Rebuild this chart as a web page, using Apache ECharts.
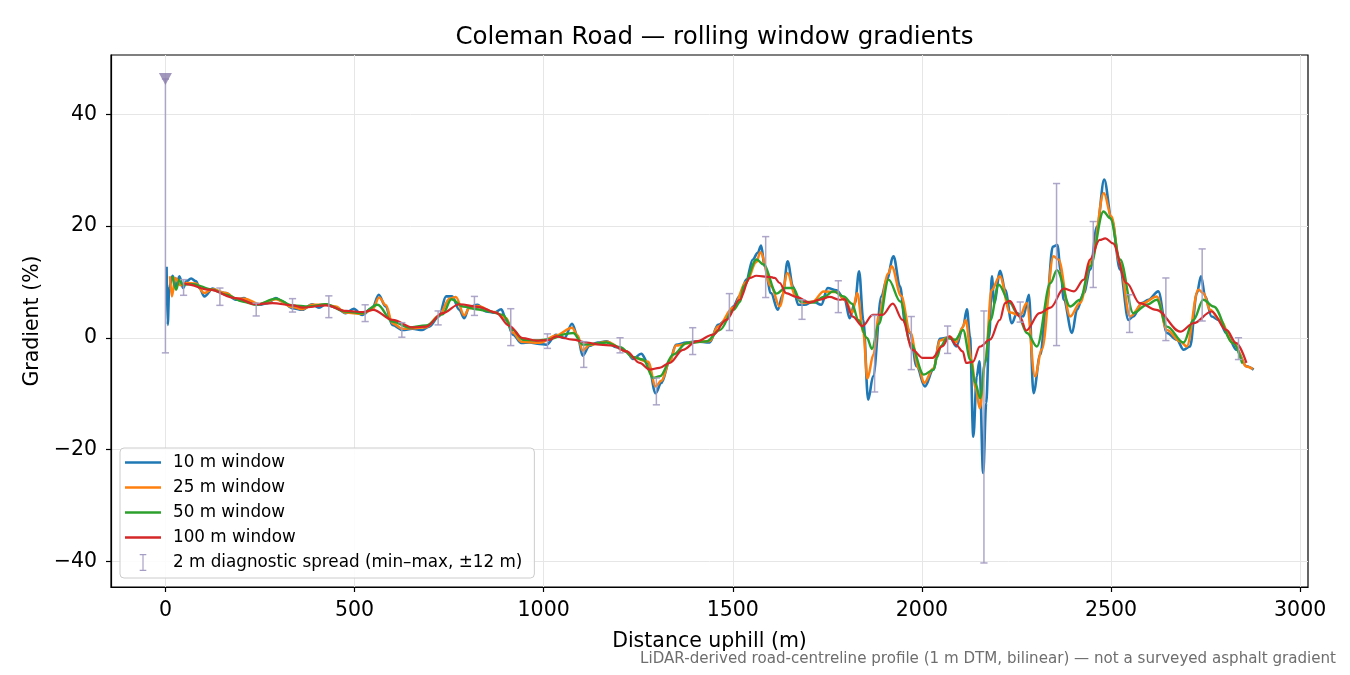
<!DOCTYPE html>
<html>
<head>
<meta charset="utf-8">
<script src="https://cdn.jsdelivr.net/npm/echarts@6/dist/echarts.min.js"></script>
<style>
html,body{margin:0;padding:0;background:#fff;}
#chart{width:1350px;height:675px;}
</style>
</head>
<body>
<div id="chart"></div>
<script>
// ---- data (distance m, gradient %) ----
const win10 = [[3,12.7],[6,2.3],[10,9.0],[19,11.1],[28,9.2],[37,11.0],[47,8.9],[55,10.1],[68,10.6],[81,10.1],[90,8.9],[103,7.4],[125,8.8],[142,8.2],[160,8.0],[186,6.8],[208,7.1],[221,6.4],[248,5.9],[270,6.2],[292,7.1],[309,6.5],[336,5.3],[362,5.0],[388,6.0],[406,5.4],[424,6.0],[450,5.4],[476,4.4],[498,5.2],[520,4.1],[547,5.3],[564,7.7],[582,5.6],[600,2.3],[627,1.4],[653,1.6],[679,1.4],[697,2.0],[723,3.8],[742,7.4],[758,7.4],[777,5.0],[790,3.5],[803,5.5],[825,5.9],[848,4.7],[869,4.5],[888,5.1],[901,3.2],[919,0.55],[941,-0.95],[963,-0.85],[989,-1.1],[1007,-1.25],[1033,0.55],[1055,-0.05],[1075,2.5],[1090,0.25],[1103,-3.2],[1121,-1.45],[1143,-0.85],[1166,-0.65],[1192,-1.7],[1219,-2.45],[1236,-3.8],[1258,-2.85],[1276,-4.5],[1296,-9.9],[1311,-8.1],[1333,-4.2],[1350,-1.25],[1377,-0.85],[1404,-0.65],[1439,-0.85],[1461,2.3],[1483,3.2],[1501,5.6],[1518,7.4],[1536,10.4],[1553,14.0],[1566,15.2],[1575,16.5],[1584,12.8],[1601,8.0],[1619,5.0],[1632,7.7],[1645,13.7],[1659,9.2],[1673,5.9],[1690,5.9],[1712,6.5],[1734,5.9],[1751,8.9],[1774,8.5],[1796,6.8],[1809,3.5],[1823,6.2],[1834,11.9],[1845,3.2],[1858,-11.1],[1871,-6.9],[1893,7.4],[1907,10.4],[1925,14.6],[1942,9.2],[1956,2.6],[1969,0.85],[1986,-5.1],[2008,-8.7],[2030,-5.7],[2048,-0.2],[2074,0.1],[2091,-1.55],[2109,2.0],[2119,5.1],[2127,0.25],[2136,-17.7],[2145,-6.9],[2152,-4.2],[2162,-24.2],[2170,-11.7],[2178,0.25],[2185,11.0],[2191,6.2],[2207,12.0],[2220,8.6],[2238,2.6],[2251,4.4],[2268,3.8],[2283,7.7],[2295,-9.9],[2313,-3.0],[2330,6.2],[2346,16.3],[2358,16.6],[2367,12.0],[2375,6.8],[2397,0.85],[2410,5.0],[2428,8.0],[2445,12.2],[2463,19.9],[2482,28.3],[2502,21.1],[2524,12.2],[2546,3.2],[2559,3.8],[2581,6.2],[2599,6.8],[2625,8.3],[2648,0.85],[2674,-0.35],[2692,-2.15],[2709,-1.55],[2727,8.0],[2738,11.0],[2749,7.4],[2766,3.8],[2785,3.2],[2805,0.85],[2832,-2.15],[2858,-5.1],[2877,-5.7]];

const win25 = [[12,11.0],[17,7.4],[26,10.7],[40,9.4],[55,9.8],[80,9.7],[103,8.0],[125,8.7],[160,8.0],[186,7.0],[210,7.0],[248,6.0],[292,6.9],[336,5.5],[362,5.1],[388,5.9],[424,5.9],[450,5.6],[476,4.5],[520,4.3],[547,5.0],[565,7.2],[583,5.8],[600,2.6],[627,1.6],[653,1.7],[689,1.9],[724,4.0],[751,7.0],[768,7.3],[790,4.0],[803,5.3],[825,5.7],[869,4.6],[901,3.5],[919,0.9],[941,-0.7],[989,-0.9],[1033,0.4],[1075,1.8],[1090,0.4],[1103,-2.3],[1121,-1.3],[1166,-0.7],[1219,-2.4],[1236,-3.5],[1276,-4.3],[1296,-8.7],[1311,-7.7],[1333,-4.3],[1350,-1.4],[1404,-0.7],[1439,-0.6],[1461,2.0],[1501,5.4],[1536,10.0],[1562,13.5],[1573,15.3],[1601,9.2],[1624,5.6],[1645,11.6],[1665,7.5],[1685,6.2],[1712,6.5],[1740,8.3],[1773,8.2],[1796,6.8],[1816,4.5],[1829,8.0],[1845,1.0],[1856,-7.3],[1872,-3.0],[1886,4.0],[1911,11.5],[1920,12.8],[1945,7.5],[1969,1.0],[1992,-5.5],[2006,-8.1],[2030,-5.5],[2048,-0.5],[2074,0.2],[2091,-0.8],[2107,1.8],[2116,3.2],[2131,-4.0],[2142,-9.0],[2153,-12.6],[2168,-4.0],[2184,8.5],[2206,11.0],[2233,4.5],[2260,4.0],[2277,6.2],[2299,-6.9],[2317,-2.1],[2348,14.6],[2361,14.0],[2392,3.8],[2418,6.2],[2449,14.0],[2481,25.9],[2501,21.7],[2523,13.4],[2550,3.8],[2585,6.2],[2621,7.4],[2648,1.4],[2683,-0.65],[2700,-1.55],[2731,8.6],[2744,8.0],[2762,5.0],[2788,3.2],[2823,-0.95],[2860,-5.2],[2875,-5.6]];

const win50 = [[19,11.0],[28,8.6],[37,10.4],[45,9.5],[72,9.6],[125,8.6],[160,7.7],[204,6.5],[239,5.9],[292,7.0],[336,5.8],[380,5.6],[424,6.0],[476,4.7],[520,4.4],[561,5.9],[600,2.9],[644,1.85],[689,2.2],[733,4.2],[756,6.9],[787,5.6],[822,5.1],[857,4.7],[892,4.1],[919,1.4],[945,-0.35],[980,-0.5],[1016,-0.25],[1060,0.7],[1078,0.85],[1104,-1.25],[1131,-1.1],[1166,-0.85],[1202,-1.7],[1237,-3.5],[1263,-3.9],[1290,-7.2],[1307,-6.9],[1343,-3.0],[1378,-0.95],[1430,-0.65],[1466,1.4],[1502,5.0],[1520,6.5],[1528,9.2],[1563,14.0],[1581,13.1],[1616,7.9],[1638,8.9],[1660,8.9],[1679,6.5],[1714,6.3],[1740,7.3],[1766,8.3],[1793,7.4],[1815,6.1],[1832,3.2],[1855,-0.05],[1868,-2.0],[1886,2.5],[1912,10.4],[1943,6.5],[1970,-1.0],[2005,-6.6],[2031,-5.7],[2040,-3.5],[2050,-1.5],[2066,-0.05],[2088,-0.35],[2109,1.4],[2128,-3.9],[2141,-8.1],[2154,-10.8],[2167,-4.5],[2181,3.2],[2203,9.5],[2233,6.2],[2252,4.4],[2278,0.85],[2304,-1.55],[2340,9.8],[2357,12.1],[2392,5.6],[2418,6.8],[2445,12.8],[2480,22.6],[2498,21.4],[2524,14.0],[2559,4.4],[2595,5.9],[2621,6.8],[2648,2.0],[2692,-0.85],[2718,3.2],[2744,6.8],[2771,5.6],[2823,-0.95],[2847,-4.6]];

const win100 = [[50,9.8],[55,9.6],[116,8.6],[186,7.1],[239,6.0],[283,6.2],[337,5.8],[363,5.4],[425,5.8],[478,4.8],[522,4.6],[549,5.0],[601,3.2],[654,1.85],[689,2.0],[733,4.4],[777,6.0],[830,5.5],[874,4.5],[909,2.15],[944,-0.05],[980,-0.5],[1015,-0.4],[1033,0.25],[1077,-0.35],[1113,-0.85],[1148,-1.25],[1183,-1.4],[1219,-2.45],[1254,-4.5],[1280,-5.7],[1306,-5.4],[1333,-4.5],[1368,-2.15],[1404,-0.65],[1448,0.55],[1483,3.2],[1518,6.8],[1545,10.7],[1562,11.1],[1597,10.9],[1611,10.7],[1624,9.8],[1641,8.0],[1668,7.3],[1703,6.3],[1729,6.8],[1756,7.3],[1782,6.8],[1795,6.9],[1817,3.8],[1843,2.1],[1870,4.1],[1896,4.1],[1923,6.1],[1949,3.2],[1975,-2.15],[2002,-3.6],[2028,-3.6],[2054,-1.55],[2073,0.25],[2090,-1.25],[2108,-2.45],[2117,-4.5],[2135,-4.3],[2153,-1.6],[2180,-0.35],[2206,3.2],[2220,6.2],[2232,6.6],[2259,3.8],[2276,1.3],[2311,4.4],[2340,5.4],[2375,8.8],[2402,8.3],[2428,10.4],[2444,14.0],[2470,17.5],[2485,17.8],[2505,16.9],[2541,9.8],[2576,6.2],[2620,5.0],[2683,1.1],[2718,2.6],[2766,4.7],[2805,1.4],[2831,-0.95],[2858,-4.5]];

// 2 m diagnostic spread: position, min, max
const spreadX   = [0,48,144,240,336,432,528,625,721,817,913,1010,1106,1202,1298,1394,1491,1587,1683,1779,1875,1972,2068,2164,2260,2356,2453,2549,2645,2741,2837];
const spreadMin = [-2.7,7.6,5.8,3.9,4.6,3.6,2.9,0.1,2.3,4.0,-1.4,-1.9,-5.3,-2.7,-12.0,-3.0,1.3,7.2,3.3,4.5,-9.7,-5.7,-2.8,-40.3,2.8,-1.4,9.0,0.95,-0.5,3.0,-3.9];
const spreadMax = [46.3,10.4,8.9,6.2,7.0,7.5,5.9,2.7,4.8,7.4,5.2,0.7,-0.7,0.0,-7.2,1.8,7.9,18.1,6.8,10.2,4.0,3.8,2.1,4.8,6.4,27.6,20.8,7.7,10.7,15.9,0.0];
const clippedMarker = [[0,46.3]];

const xTicks = [0,500,1000,1500,2000,2500,3000];
const yTicks = [-40,-20,0,20,40];

const seriesNames = ['10 m window','25 m window','50 m window','100 m window'];
const spreadName = '2 m diagnostic spread (min\u2013max, \u00b112 m)';
const titleText = 'Coleman Road \u2014 rolling window gradients';
const footText = 'LiDAR-derived road-centreline profile (1 m DTM, bilinear) \u2014 not a surveyed asphalt gradient';

// ---- chart ----
const FONT = '"DejaVu Sans", "Liberation Sans", sans-serif';
const colors = ['#1f77b4','#ff7f0e','#2ca02c','#d62728'];
const widths = [2.6,2.5,2.4,2.2];
const spreadColor = '#a59dc3';
const minusFmt = v => (v < 0 ? '\u2212' + Math.abs(v) : String(v));

const spreadData = spreadX.map((x,i) => [x, spreadMin[i], spreadMax[i]]);

const lineSeries = [win10, win25, win50, win100].map((d,i) => ({
  name: seriesNames[i],
  type: 'line',
  data: d,
  symbol: 'none',
  smooth: 0.35,
  smoothMonotone: 'x',
  z: 2 + i,
  lineStyle: { color: colors[i], width: widths[i] },
  itemStyle: { color: colors[i] },
  emphasis: { disabled: true }
}));

const lineIcon = 'path://M0,0h36v2.4h-36z';

const chart = echarts.init(document.getElementById('chart'), null, { renderer: 'canvas' });
chart.setOption({
  animation: false,
  backgroundColor: '#ffffff',
  textStyle: { fontFamily: FONT },
  title: {
    text: titleText,
    left: 709.5,
    textAlign: 'center',
    top: 20,
    textStyle: { fontFamily: FONT, fontSize: 24.5, fontWeight: 'normal', color: '#000' }
  },
  grid: {
    left: 111, right: 42, top: 55, bottom: 88,
    show: true, borderColor: '#000', borderWidth: 1.2, containLabel: false
  },
  legend: {
    orient: 'vertical',
    left: 120, top: 448,
    padding: [6, 12, 7, 5],
    itemGap: 8,
    itemWidth: 36,
    itemHeight: 17,
    backgroundColor: 'rgba(255,255,255,0.85)',
    borderColor: '#cccccc',
    borderWidth: 1,
    borderRadius: 4,
    textStyle: { fontFamily: FONT, fontSize: 16.8, color: '#000', padding: [0,0,0,7], lineHeight: 17 },
    data: [
      { name: seriesNames[0], icon: lineIcon },
      { name: seriesNames[1], icon: lineIcon },
      { name: seriesNames[2], icon: lineIcon },
      { name: seriesNames[3], icon: lineIcon },
      { name: spreadName, icon: 'path://M0,0h7v1.3h-2.9v15.4h2.9v1.3h-7v-1.3h2.9v-15.4h-2.9z' }
    ]
  },
  xAxis: {
    type: 'value',
    min: -143.9, max: 3020.8,
    name: 'Distance uphill (m)',
    nameLocation: 'middle',
    nameGap: 44,
    nameTextStyle: { fontFamily: FONT, fontSize: 20.5, color: '#000' },
    axisLine: { show: true, onZero: false, lineStyle: { color: '#000', width: 1.2 } },
    axisTick: { show: true, inside: false, length: 5, customValues: xTicks, lineStyle: { color: '#000', width: 1.2 } },
    axisLabel: { customValues: xTicks, margin: 13, fontFamily: FONT, fontSize: 20.5, color: '#000', formatter: minusFmt },
    splitLine: { show: true, lineStyle: { color: '#e6e6e6', width: 1 } }
  },
  yAxis: {
    type: 'value',
    min: -44.6, max: 50.6,
    name: 'Gradient (%)',
    nameLocation: 'middle',
    nameGap: 68,
    nameRotate: 90,
    nameTextStyle: { fontFamily: FONT, fontSize: 20.5, color: '#000' },
    axisLine: { show: true, onZero: false, lineStyle: { color: '#000', width: 1.2 } },
    axisTick: { show: true, inside: false, length: 5, customValues: yTicks, lineStyle: { color: '#000', width: 1.2 } },
    axisLabel: { customValues: yTicks, margin: 14, fontFamily: FONT, fontSize: 20.5, color: '#000', formatter: minusFmt },
    splitLine: { show: true, lineStyle: { color: '#e6e6e6', width: 1 } }
  },
  graphic: [{
    type: 'text',
    right: 14,
    top: 652,
    style: { text: footText, fill: '#6e6e6e', font: '15.1px ' + FONT }
  }],
  series: lineSeries.concat([
    {
      name: spreadName,
      type: 'custom',
      data: spreadData,
      encode: { x: 0, y: [1, 2] },
      z: 10,
      itemStyle: { color: spreadColor },
      renderItem: function (params, api) {
        const x = api.value(0), lo = api.value(1), hi = api.value(2);
        const p1 = api.coord([x, lo]);
        const p2 = api.coord([x, hi]);
        const w = 3.6;
        const st = { stroke: spreadColor, lineWidth: 1.5, opacity: 0.9 };
        return {
          type: 'group',
          children: [
            { type: 'line', shape: { x1: p1[0], y1: p1[1], x2: p2[0], y2: p2[1] }, style: st },
            { type: 'line', shape: { x1: p1[0] - w, y1: p1[1], x2: p1[0] + w, y2: p1[1] }, style: st },
            { type: 'line', shape: { x1: p2[0] - w, y1: p2[1], x2: p2[0] + w, y2: p2[1] }, style: st }
          ]
        };
      }
    },
    {
      name: 'clipped',
      type: 'scatter',
      data: clippedMarker,
      symbol: 'triangle',
      symbolRotate: 180,
      symbolSize: [13, 12],
      z: 11,
      itemStyle: { color: '#8a7cab' },
      emphasis: { disabled: true }
    }
  ])
});
</script>
</body>
</html>
